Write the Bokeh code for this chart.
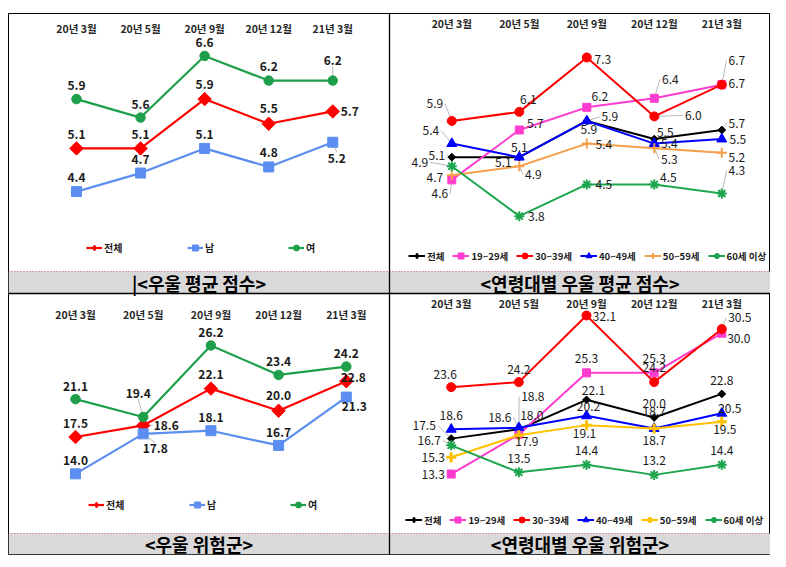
import math
from bokeh.plotting import figure
from bokeh.models import ColumnDataSource, Range1d, Legend, LegendItem, Label
from bokeh.core.properties import value
from bokeh.embed import file_html
from bokeh.resources import INLINE

# ---------------- data ----------------
periods = ["20년 3월", "20년 5월", "20년 9월", "20년 12월", "21년 3월"]

gender_names = ["전체", "남", "여"]
age_names = ["전체", "19~29세", "30~39세", "40~49세", "50~59세", "60세 이상"]

# 우울 평균 점수 (성별)
score_total = [5.1, 5.1, 5.9, 5.5, 5.7]
score_male = [4.4, 4.7, 5.1, 4.8, 5.2]
score_female = [5.9, 5.6, 6.6, 6.2, 6.2]

# 연령대별 우울 평균 점수
age_score_total = [5.1, 5.1, 5.9, 5.5, 5.7]
age_score_19_29 = [4.6, 5.7, 6.2, 6.4, 6.7]
age_score_30_39 = [5.9, 6.1, 7.3, 6.0, 6.7]
age_score_40_49 = [5.4, 5.1, 5.9, 5.4, 5.5]
age_score_50_59 = [4.7, 4.9, 5.4, 5.3, 5.2]
age_score_60_up = [4.9, 3.8, 4.5, 4.5, 4.3]

# 우울 위험군 (성별)
risk_total = [17.5, 18.6, 22.1, 20.0, 22.8]
risk_male = [14.0, 17.8, 18.1, 16.7, 21.3]
risk_female = [21.1, 19.4, 26.2, 23.4, 24.2]

# 연령대별 우울 위험군
age_risk_total = [17.5, 18.6, 22.1, 20.0, 22.8]
age_risk_19_29 = [13.3, 18.0, 25.3, 25.3, 30.0]
age_risk_30_39 = [23.6, 24.2, 32.1, 24.2, 30.5]
age_risk_40_49 = [18.6, 18.8, 20.2, 18.7, 20.5]
age_risk_50_59 = [15.3, 17.9, 19.1, 18.7, 19.5]
age_risk_60_up = [16.7, 13.5, 14.4, 13.2, 14.4]

titles = ["|<우울 평균 점수>", "<연령대별 우울 평균 점수>", "<우울 위험군>", "<연령대별 우울 위험군>"]

# ---------------- label placement (px offsets, down positive, leader flag) ----------------
off_tl = [
    [(0, -14, 0), (0, -14, 0), (0, -15, 0), (0, -15, 0), (17, 0, 0)],
    [(0, -14, 0), (0, -14, 0), (0, -14, 0), (0, -14, 0), (4, 16, 1)],
    [(0, -14, 0), (0, -13, 0), (0, -13, 0), (0, -14, 0), (0, -20, 1)],
]
off_tr = [
    [(-15, -2, 1), (0, -10, 0), (2, 9, 0), (11, -7, 0), (15, -7, 1)],
    [(-12, 14, 1), (16, -7, 0), (13, -11, 0), (16, -19, 1), (15, -1, 0)],
    [(-17, -17, 1), (9, -12, 0), (16, 2, 0), (39, -1, 1), (15, -24, 1)],
    [(-21, -13, 1), (-16, 5, 0), (23, -4, 1), (15, 0, 0), (16, 0, 0)],
    [(-17, 2, 0), (14, 8, 1), (17, 1, 0), (15, 11, 1), (15, 5, 0)],
    [(-32, -4, 1), (17, 0, 0), (17, 0, 0), (14, -7, 0), (15, -23, 1)],
]
off_bl = [
    [(0, -14, 0), (23, 0, 1), (0, -14, 0), (0, -15, 0), (7, -4, 0)],
    [(0, -13, 0), (12, 15, 1), (0, -13, 0), (0, -13, 0), (8, 9, 0)],
    [(0, -13, 0), (-5, -24, 1), (0, -13, 0), (0, -13, 0), (0, -13, 0)],
]
off_br = [
    [(-27, -13, 1), (-19, -12, 1), (7, -9, 0), (0, -14, 0), (0, -13, 0)],
    [(-18, 0, 1), (13, -19, 0), (0, -14, 0), (0, -14, 0), (17, 5, 0)],
    [(-6, -13, 0), (0, -13, 0), (18, 1, 1), (0, -15, 0), (18, -11, 1)],
    [(0, -14, 0), (14, -31, 1), (2, -9, 0), (0, -17, 0), (8, -5, 0)],
    [(-18, 0, 1), (8, 6, 0), (-2, 8, 0), (0, 12, 0), (3, 8, 0)],
    [(-22, -5, 1), (0, -14, 0), (0, -14, 0), (0, -14, 0), (0, -14, 0)],
]

FONT = "Noto Sans CJK KR"
D45 = math.pi / 4
NAN = float("nan")

C_RED = "#ff0000"
C_BLUE_M = "#5b8ef0"
C_GREEN = "#1e9f4a"
C_BLACK = "#000000"
C_PINK = "#ff3ccf"
C_BLUE = "#0000ff"
C_ORANGE = "#f5a04c"
C_YELLOW = "#ffc000"
C_GREEN2 = "#1ea64f"

# series styles: (colour, marker, size, angle, marker line width)
sty_tl = [(C_RED, "square", 9.5, D45, 1), (C_BLUE_M, "square", 10, 0, 1), (C_GREEN, "circle", 9.5, 0, 1)]
sty_tr = [(C_BLACK, "square", 5.5, D45, 1), (C_PINK, "square", 8, 0, 1), (C_RED, "circle", 9, 0, 1),
          (C_BLUE, "triangle", 10, 0, 1), (C_ORANGE, "cross", 10, 0, 2), (C_GREEN2, "asterisk", 10, 0, 2)]
sty_br = [(C_BLACK, "square", 5.5, D45, 1), (C_PINK, "square", 8, 0, 1), (C_RED, "circle", 9, 0, 1),
          (C_BLUE, "triangle", 10, 0, 1), (C_YELLOW, "cross", 10, 0, 3), (C_GREEN2, "asterisk", 10, 0, 2)]

# whole frame in picture pixels
FL, FR, FT, FB = 8, 770, 13, 554
XDIV, YDIV = 389, 293

# panel geometry in picture pixels
geo_tl = dict(cell=(8, 389), x0=76, dx=64.06, vref=5.4667, yref=125.3, ppu=61.66,
              band=(271, 293), band_y=282, cat_y=28.3, leg=(78, 299))
geo_tr = dict(cell=(389, 770), x0=451.3, dx=67.5, vref=5.1, yref=156.7, ppu=45.33,
              band=(271, 293), band_y=282, cat_y=23.3, leg=(400, 291))
geo_bl = dict(cell=(8, 389), x0=75, dx=67.7, vref=26.2, yref=345, ppu=10.52,
              band=(533, 554), band_y=543.5, cat_y=314.3, leg=(80, 42))
geo_br = dict(cell=(389, 770), x0=450.7, dx=67.65, vref=32.1, yref=315, ppu=8.433,
              band=(533, 554), band_y=543.5, cat_y=303.3, leg=(397, 27))

leg_gender = dict(gw=16, gh=15, standoff=2, label_width=83, spacing=0, size="10px")
leg_age = dict(gw=17, gh=15, standoff=2, label_width=0, spacing=8, size="9.5px")

p = figure(width=FR, height=FB + 8, x_range=Range1d(FL, FR), y_range=Range1d(FB, FT),
           output_backend="svg", toolbar_location=None,
           x_axis_location=None, y_axis_location=None,
           min_border=0, min_border_left=FL, min_border_top=FT, min_border_bottom=8)
p.grid.visible = False
p.outline_line_color = "black"
p.outline_line_width = 1
p.background_fill_color = "white"
p.border_fill_color = "white"


def build_panel(key, geo, names, values, styles, offsets, title, legend_cfg, bold_labels, lw):
    cl, cr = geo["cell"]
    x0, dxp, vref, yref, ppu = geo["x0"], geo["dx"], geo["vref"], geo["yref"], geo["ppu"]
    xn, yn = "x_" + key, "y_" + key
    p.extra_x_ranges[xn] = Range1d((FL - x0) / dxp, (FR - x0) / dxp)
    p.extra_y_ranges[yn] = Range1d(vref - (FB - yref) / ppu, vref + (yref - FT) / ppu)

    bt, bb = geo["band"]
    p.quad(left=[cl], right=[cr], top=[bt], bottom=[bb], fill_color="#d9d9d9", line_color=None)
    p.segment(x0=[cl], y0=[bt], x1=[cr], y1=[bt], line_color="#c0504d", line_width=1, line_dash="1 2")
    p.add_layout(Label(x=(cl + cr) / 2, y=geo["band_y"], text=title,
                       text_align="center", text_baseline="middle", text_font=FONT,
                       text_font_size="18px", text_font_style="bold", text_color="black"))

    xs = list(range(len(periods)))
    p.text(x=xs, y=[geo["cat_y"]] * len(xs), text=periods, x_range_name=xn,
           text_font=value(FONT), text_font_size=value("10.5px"), text_font_style="bold",
           text_align="center", text_baseline="middle", text_color="#262626")

    # leader lines
    lx0, ly0, lx1, ly1 = [], [], [], []
    for vals, offs in zip(values, offsets):
        for i, (v, (ox, oy, lead)) in enumerate(zip(vals, offs)):
            if not lead:
                continue
            t = f"{v:.1f}"
            half = (7 * (len(t) - 1) + 3.5) / 2
            if abs(ox) > half:
                ex = ox - math.copysign(half + 1.5, ox)
                ey = oy
            else:
                ex = ox
                ey = oy - math.copysign(6, oy)
            lx0.append(xs[i]); ly0.append(v)
            lx1.append(xs[i] + ex / dxp); ly1.append(v - ey / ppu)
    p.segment(x0="x0", y0="y0", x1="x1", y1="y1",
              source=ColumnDataSource(dict(x0=lx0, y0=ly0, x1=lx1, y1=ly1)),
              x_range_name=xn, y_range_name=yn, line_color="#a6a6a6", line_width=0.8)

    items = []
    for name, vals, (color, marker, size, angle, mlw) in zip(names, values, styles):
        lr = p.line(xs, vals, line_color=color, line_width=lw, x_range_name=xn, y_range_name=yn)
        mr = p.scatter(xs, vals, marker=marker, size=size, angle=angle,
                       fill_color=color, line_color=color, line_width=mlw,
                       x_range_name=xn, y_range_name=yn)
        if angle:
            # legend key only (not plotted): diamond symbol
            key_r = p.scatter(x=[NAN], y=[NAN], marker="diamond", size=size, fill_color=color,
                              line_color=color, x_range_name=xn, y_range_name=yn)
            items.append(LegendItem(label=name, renderers=[lr, key_r]))
        else:
            items.append(LegendItem(label=name, renderers=[lr, mr]))

    for vals, offs in zip(values, offsets):
        src = ColumnDataSource(dict(x=xs, y=vals, t=[f"{v:.1f}" for v in vals],
                                    ox=[o[0] for o in offs], oy=[o[1] for o in offs]))
        p.text(x="x", y="y", text="t", x_offset="ox", y_offset="oy", source=src,
               x_range_name=xn, y_range_name=yn,
               text_font=value(FONT), text_font_size=value("12px"),
               text_font_style="bold" if bold_labels else "normal",
               text_align="center", text_baseline="middle", text_color="#1a1a1a")

    lg = Legend(items=items, orientation="horizontal", location=geo["leg"],
                glyph_width=legend_cfg["gw"], glyph_height=legend_cfg["gh"],
                label_standoff=legend_cfg["standoff"], label_width=legend_cfg["label_width"],
                label_height=legend_cfg["gh"], spacing=legend_cfg["spacing"],
                padding=0, margin=0, border_line_color=None, background_fill_alpha=0,
                label_text_font=FONT, label_text_font_size=legend_cfg["size"],
                label_text_font_style="bold", label_text_color="#1a1a1a")
    p.add_layout(lg)


build_panel("tl", geo_tl, gender_names, [score_total, score_male, score_female], sty_tl, off_tl,
            titles[0], leg_gender, True, 2.2)
build_panel("tr", geo_tr, age_names, [age_score_total, age_score_19_29, age_score_30_39, age_score_40_49,
                                      age_score_50_59, age_score_60_up], sty_tr, off_tr,
            titles[1], leg_age, False, 2)
build_panel("bl", geo_bl, gender_names, [risk_total, risk_male, risk_female], sty_tl, off_bl,
            titles[2], leg_gender, True, 2.2)
build_panel("br", geo_br, age_names, [age_risk_total, age_risk_19_29, age_risk_30_39, age_risk_40_49,
                                      age_risk_50_59, age_risk_60_up], sty_br, off_br,
            titles[3], leg_age, False, 2)

# cell dividers
p.segment(x0=[XDIV, FL], y0=[FT, YDIV], x1=[XDIV, FR], y1=[FB, YDIV], line_color="black", line_width=1.3)

open("out.html", "w").write(file_html(p, INLINE))
